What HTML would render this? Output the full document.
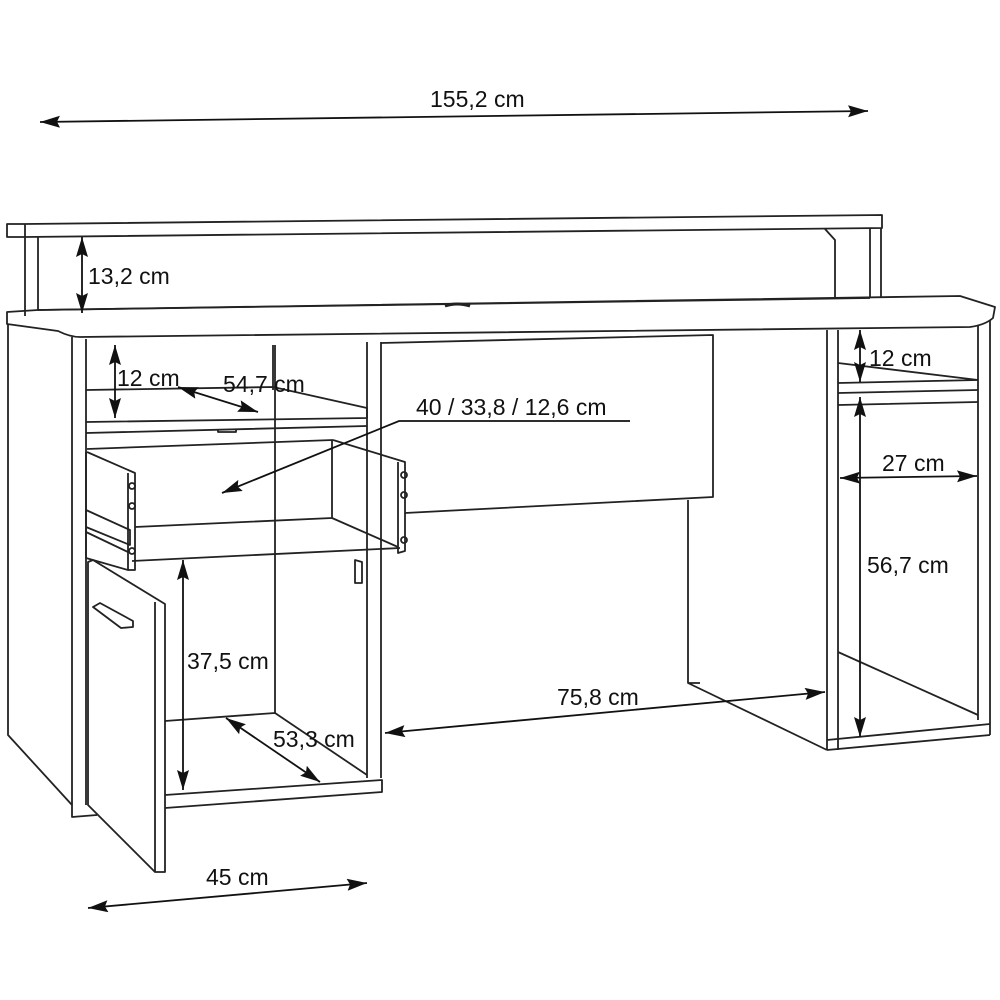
<!DOCTYPE html>
<html><head><meta charset="utf-8"><style>
html,body{margin:0;padding:0;background:#fff;}
svg{display:block}
text{font-family:"Liberation Sans",sans-serif;font-size:23px;fill:#111}
</style></head><body>
<svg width="1000" height="1000" viewBox="0 0 1000 1000" xmlns="http://www.w3.org/2000/svg">
<defs>
<marker id="a" viewBox="0 0 20 12" refX="20" refY="6" markerWidth="20" markerHeight="12" orient="auto-start-reverse" markerUnits="userSpaceOnUse"><path d="M0,0 L20,6 L0,12 L3,6 z" fill="#111"/></marker>
</defs>
<g fill="none" stroke="#222" stroke-width="1.8" stroke-linejoin="round">
<!-- riser top board -->
<path d="M7,224 L25,224 L882,215 L882,228 L25,237 L7,237 Z"/>
<line x1="25" y1="224" x2="25" y2="237"/>
<path d="M25,237 L25,316 M38,237 L38,310"/>
<path d="M870,228 L870,298 M881,228 L881,298"/>
<path d="M825,229 L835,240 L835,298"/>
<!-- desktop -->
<path d="M7,312 L38,310 L960,296 L995,307 L993,318 Q985,325 970,327 L80,337 Q70,337 58,331 L7,324 Z"/>
<path d="M38,310 L870,298"/>
<path d="M445,306 Q457,302 470,306" stroke-width="3"/>
<!-- left cabinet sides -->
<path d="M8,324 L8,735 L72,805 L72,817 L97,815"/>
<path d="M72,337 L72,805 M86,339 L86,805"/>
<!-- left inner -->
<path d="M275,345 L275,713 M273,345 L273,390"/>
<path d="M367,342 L367,778 M381,342 L381,778"/>
<!-- shelf -->
<path d="M86,390 L273,387 L367,408 L367,418 L86,422 M86,433 L367,426"/>
<path d="M218,429 L218,432 L236,432 L236,429"/>
<!-- drawer -->
<path d="M87,449 L333,440"/>
<path d="M87,452 L135,473 L135,570 L128,570"/>
<path d="M86,452 L86,558 L128,570 L128,473"/>
<path d="M135,527 L332,518 L332,440"/>
<path d="M332,518 L398,547"/>
<path d="M132,561 L400,548"/>
<path d="M333,440 L405,462 L405,551 L398,553 L398,462"/>
<path d="M86,510 L130,530 L130,545 L86,527 M86,532 L128,552"/>
<circle cx="132" cy="486" r="3"/><circle cx="132" cy="506" r="3"/><circle cx="132" cy="551" r="3"/>
<circle cx="404" cy="475" r="3"/><circle cx="404" cy="495" r="3"/><circle cx="404" cy="540" r="3"/>
<!-- door -->
<path d="M88,562 L93,560 L165,604 L165,872 L155,872 L88,805 Z"/>
<path d="M155,602 L155,872"/>
<path d="M93,607 L100,603 L133,621 L133,627 L121,628 Z"/>
<path d="M355,560 L362,562 L362,583 L355,583 Z"/>
<!-- cabinet floor -->
<path d="M165,721 L275,713 L367,775 M165,795 L382,780 L382,792 L165,808"/>
<!-- middle panel -->
<path d="M381,343 L713,335 L713,497 L405,513"/>
<path d="M688,500 L688,683 L827,750 M688,683 L700,683"/>
<!-- right pedestal -->
<path d="M827,330 L827,750 M838,330 L838,750"/>
<path d="M978,326 L978,720 M990,320 L990,735"/>
<path d="M838,363 L978,380 M838,383 L978,380 M838,393 L978,390 M838,405 L978,402"/>
<path d="M838,652 L978,715"/>
<path d="M827,750 L990,735 M827,740 L990,724"/>
</g>
<g stroke="#111" stroke-width="1.8" fill="none">
<line x1="40" y1="122" x2="868" y2="111" marker-start="url(#a)" marker-end="url(#a)"/>
<line x1="82" y1="237" x2="82" y2="313" marker-start="url(#a)" marker-end="url(#a)"/>
<line x1="115" y1="345" x2="115" y2="418" marker-start="url(#a)" marker-end="url(#a)"/>
<line x1="178" y1="387" x2="258" y2="412" marker-start="url(#a)" marker-end="url(#a)"/>
<path d="M630,421 L399,421 L222,493" marker-end="url(#a)"/>
<line x1="183" y1="560" x2="183" y2="790" marker-start="url(#a)" marker-end="url(#a)"/>
<line x1="226" y1="718" x2="320" y2="782" marker-start="url(#a)" marker-end="url(#a)"/>
<line x1="385" y1="733" x2="825" y2="692" marker-start="url(#a)" marker-end="url(#a)"/>
<line x1="88" y1="908" x2="367" y2="883" marker-start="url(#a)" marker-end="url(#a)"/>
<line x1="860" y1="330" x2="860" y2="382" marker-start="url(#a)" marker-end="url(#a)"/>
<line x1="840" y1="478" x2="977" y2="476" marker-start="url(#a)" marker-end="url(#a)"/>
<line x1="860" y1="397" x2="860" y2="737" marker-start="url(#a)" marker-end="url(#a)"/>
</g>
<text x="430" y="107">155,2 cm</text>
<text x="88" y="284">13,2 cm</text>
<text x="117" y="386">12 cm</text>
<text x="223" y="392">54,7 cm</text>
<text x="416" y="415">40 / 33,8 / 12,6 cm</text>
<text x="187" y="669">37,5 cm</text>
<text x="273" y="747">53,3 cm</text>
<text x="557" y="705">75,8 cm</text>
<text x="206" y="885">45 cm</text>
<text x="869" y="366">12 cm</text>
<text x="882" y="471">27 cm</text>
<text x="867" y="573">56,7 cm</text>
</svg>
</body></html>
